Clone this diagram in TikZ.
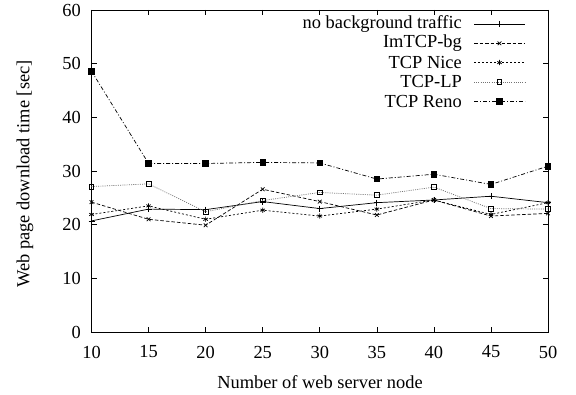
\documentclass[tikz,border=0pt]{standalone}
\usepackage{fontspec}
\setmainfont{Liberation Serif}
\usetikzlibrary{plotmarks}
\begin{document}
\begin{tikzpicture}[x=1pt,y=1pt,
  lbl/.style={font=\fontsize{18.4}{20}\selectfont, inner sep=0pt},
  frame/.style={line width=0.9pt},
  tickl/.style={line width=0.6pt},
  s1/.style={line width=0.7pt, solid, mark=+, mark size=3pt, mark options={solid}},
  s2/.style={line width=0.7pt, dash pattern=on 3.5pt off 2pt, mark=x, mark size=2.6pt, mark options={solid}},
  s3/.style={line width=0.7pt, dash pattern=on 2pt off 2pt, mark=asterisk, mark size=2.6pt, mark options={solid}},
  s4/.style={line width=0.7pt, black!55, dash pattern=on 1pt off 1.2pt, mark=square, mark size=2.3pt, mark options={solid, black}},
  s5/.style={line width=0.7pt, dash pattern=on 4pt off 2pt on 1pt off 2pt, mark=square*, mark size=2.8pt, mark options={solid, black}}
]
\useasboundingbox (0,0) rectangle (576,394);
\fill[white] (0,0) rectangle (576,394);
% axes frame
\draw[frame] (91.5,62) rectangle (548,384);
% y ticks
\foreach \v in {0,10,20,30,40,50,60}{
  \pgfmathsetmacro{\yy}{62+\v*5.3667}
  \draw[tickl] (91.5,\yy) -- (97,\yy);
  \draw[tickl] (548,\yy) -- (542.5,\yy);
}
\node[lbl, anchor=east] (y0) at (81,62) {0};
\node[lbl, anchor=east] (y10) at (81,115.7) {10};
\node[lbl, anchor=east] (y20) at (81,169.3) {20};
\node[lbl, anchor=east] (y30) at (81,223) {30};
\node[lbl, anchor=east] (y40) at (81,276.7) {40};
\node[lbl, anchor=east] (y50) at (81,330.3) {50};
\node[lbl, anchor=east] (y60) at (81,384) {60};
% x ticks
\foreach \v in {10,15,...,50}{
  \pgfmathsetmacro{\xx}{91.5+(\v-10)*11.4125}
  \draw[tickl] (\xx,62) -- (\xx,67.5);
  \draw[tickl] (\xx,384) -- (\xx,378.5);
}
\node[lbl] (x10) at (91.5,42) {10};
\node[lbl] (x15) at (148.6,42) {15};
\node[lbl] (x20) at (205.6,42) {20};
\node[lbl] (x25) at (262.7,42) {25};
\node[lbl] (x30) at (319.8,42) {30};
\node[lbl] (x35) at (376.8,42) {35};
\node[lbl] (x40) at (433.9,42) {40};
\node[lbl] (x45) at (491,42) {45};
\node[lbl] (x50) at (548,42) {50};
% axis labels
\node[lbl] (xlabel) at (320,12) {Number of web server node};
\node[lbl, rotate=90] (ylabel) at (25,220) {Web page download time [sec]};
% data
\begin{scope}[shift={(-22.625,62)}, x=11.4125pt, y=5.3667pt]
\draw[s1] plot coordinates {(10,20.7) (15,22.9) (20,22.8) (25,24.3) (30,23.0) (35,24.1) (40,24.6) (45,25.3) (50,24.1)};
\draw[s2] plot coordinates {(10,24.2) (15,21.0) (20,19.9) (25,26.6) (30,24.3) (35,21.8) (40,24.6) (45,21.6) (50,22.1)};
\draw[s3] plot coordinates {(10,21.9) (15,23.5) (20,21.0) (25,22.7) (30,21.6) (35,22.9) (40,24.6) (45,21.9) (50,24.1)};
\draw[s4] plot coordinates {(10,27.1) (15,27.6) (20,22.4) (25,24.5) (30,26.0) (35,25.5) (40,27.0) (45,23.0) (50,22.9)};
\draw[s5] plot coordinates {(10,48.6) (15,31.4) (20,31.4) (25,31.6) (30,31.5) (35,28.5) (40,29.4) (45,27.5) (50,30.9)};
\end{scope}
% legend
\node[lbl, anchor=east] (l1) at (462,370) {no background traffic};
\node[lbl, anchor=east] (l2) at (462,350.7) {ImTCP-bg};
\node[lbl, anchor=east] (l3) at (462,331.4) {TCP Nice};
\node[lbl, anchor=east] (l4) at (462,312.1) {TCP-LP};
\node[lbl, anchor=east] (l5) at (462,292.8) {TCP Reno};
\draw[s1] (474,370) -- (525,370); \draw[s1] plot coordinates {(499.5,370)};
\draw[s2] (474,350.7) -- (525,350.7); \draw[s2] plot coordinates {(499.5,350.7)};
\draw[s3] (474,331.4) -- (525,331.4); \draw[s3] plot coordinates {(499.5,331.4)};
\draw[s4] (474,312.1) -- (525,312.1); \draw[s4] plot coordinates {(499.5,312.1)};
\draw[s5] (474,292.8) -- (525,292.8); \draw[s5] plot coordinates {(499.5,292.8)};
\end{tikzpicture}
\end{document}
